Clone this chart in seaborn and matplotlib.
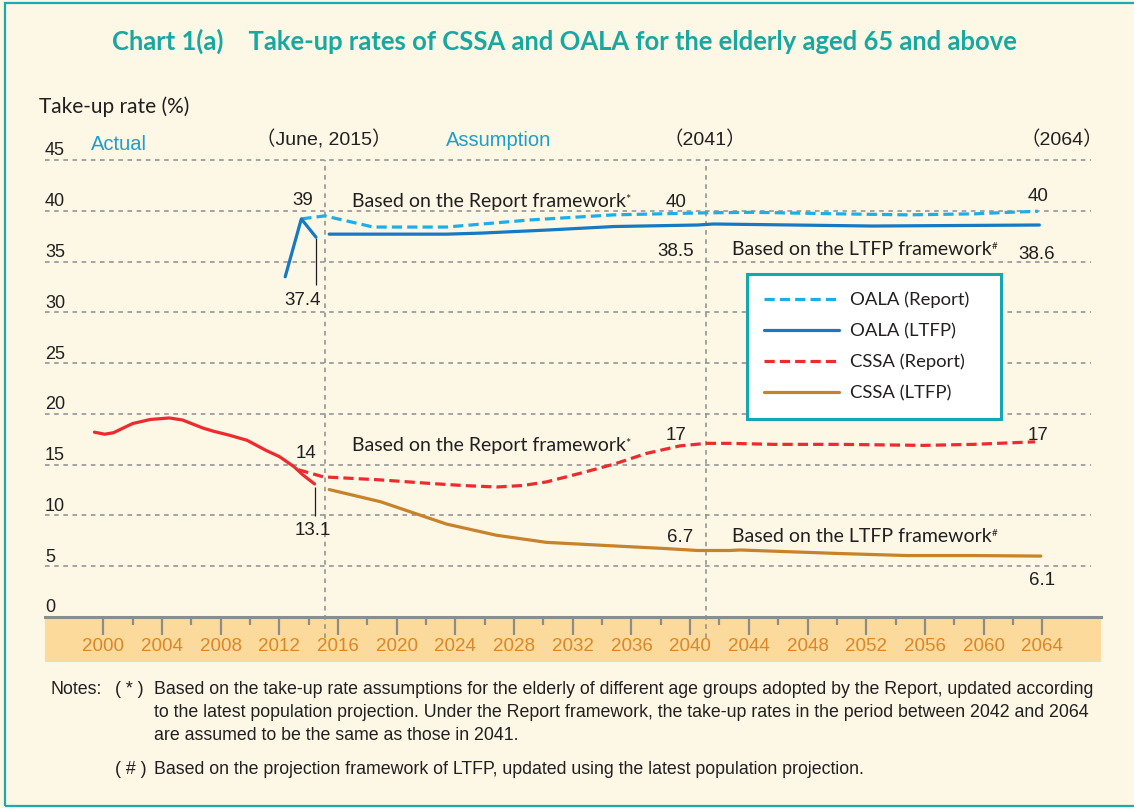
import matplotlib
matplotlib.use("Agg")
import matplotlib.pyplot as plt
from matplotlib.patches import Rectangle
import seaborn as sns

# take-up rates (%), x in years
cssa_actual_year = [1999.4, 2000.1, 2000.7, 2002.0, 2003.2, 2004.5, 2005.4, 2006.8,
                    2007.5, 2008.6, 2009.8, 2011.1, 2012.0, 2013.0, 2013.6, 2014.4]
cssa_actual = [18.2, 18.0, 18.15, 19.05, 19.45, 19.6, 19.4, 18.6,
               18.3, 17.9, 17.4, 16.4, 15.8, 14.8, 14.0, 13.1]

oala_actual_year = [2012.4, 2013.5, 2014.5]
oala_actual = [33.5, 39.2, 37.4]

cssa_report_year = [2013.3, 2015.0, 2018.9, 2022.3, 2024.5, 2026.8, 2028.6, 2030.2, 2032.5,
                    2034.8, 2037.0, 2039.3, 2041.1, 2042.7, 2045.7, 2050.2, 2055.9, 2059.3, 2063.5]
cssa_report = [14.5, 13.8, 13.5, 13.15, 12.95, 12.8, 12.95, 13.3, 14.15,
               15.05, 16.1, 16.85, 17.1, 17.1, 17.0, 17.0, 16.9, 17.0, 17.25]

cssa_ltfp_year = [2015.4, 2018.9, 2023.4, 2026.8, 2030.2, 2034.8, 2038.2, 2040.5,
                  2042.7, 2043.4, 2050.2, 2054.8, 2059.3, 2063.9]
cssa_ltfp = [12.55, 11.35, 9.15, 8.05, 7.35, 7.0, 6.75, 6.55,
             6.55, 6.6, 6.25, 6.05, 6.05, 6.0]

oala_report_year = [2013.5, 2015.1, 2018.4, 2023.4, 2029.1, 2034.8, 2041.1, 2044.3,
                    2050.1, 2054.8, 2059.4, 2061.7, 2063.7]
oala_report = [39.2, 39.5, 38.4, 38.4, 39.1, 39.6, 39.8, 39.85,
               39.7, 39.6, 39.7, 39.85, 39.95]

oala_ltfp_year = [2015.4, 2023.4, 2025.7, 2030.2, 2034.8, 2040.5, 2041.6, 2052.4, 2063.8]
oala_ltfp = [37.7, 37.7, 37.8, 38.1, 38.45, 38.6, 38.7, 38.5, 38.6]

y_levels = [5, 10, 15, 20, 25, 30, 35, 40, 45]
major_years = list(range(2000, 2065, 4))
minor_years = list(range(2002, 2063, 4))
split_years = [2015.1, 2041.1]

BG = "#FDF7E6"
BAND = "#FCDA9B"
TEAL = "#17A8A0"
GRID = "#8C8C8C"
INK = "#231F20"
CYAN_TXT = "#1BA0CB"
C_OALA_R = "#1DAEE9"
C_OALA_L = "#1679C4"
C_CSSA_R = "#EE2A2E"
C_CSSA_L = "#C8822A"

sns.set_style("white", {"axes.facecolor": BG, "figure.facecolor": BG})
plt.rcParams["font.family"] = ["Liberation Sans", "Noto Sans CJK SC", "DejaVu Sans"]

fig = plt.figure(figsize=(11.34, 8.08), dpi=100)
ax = fig.add_axes([0.03968, 0.1807, 0.9312, 0.6464])
ax.set_xlim(1996.03, 2068.0)
ax.set_ylim(-4.43, 47)

# orange band under the axis
ax.axhspan(-4.43, 0, color=BAND, zorder=0, lw=0)

# dashed horizontal grid
ax.hlines(y_levels, 1996.03, 2067.3, colors=GRID, linestyles=(0, (3, 3)), lw=1.1, zorder=1)
for v in [0] + y_levels:
    ax.text(1996.03, v + 0.45, str(v), fontsize=13, color=INK, ha="left", va="baseline")

# vertical split lines
ax.vlines(split_years, -2.1, 45, colors=GRID, linestyles=(0, (3, 3)), lw=1.1, zorder=1)

lw = 2.3
dash = (0, (3.2, 1.6))
sns.lineplot(x=oala_report_year, y=oala_report, ax=ax, color=C_OALA_R, lw=lw,
             linestyle=dash, sort=False, estimator=None, label="OALA (Report)", zorder=3)
sns.lineplot(x=oala_ltfp_year, y=oala_ltfp, ax=ax, color=C_OALA_L, lw=lw,
             sort=False, estimator=None, label="OALA (LTFP)", zorder=3)
sns.lineplot(x=cssa_report_year, y=cssa_report, ax=ax, color=C_CSSA_R, lw=lw,
             linestyle=dash, sort=False, estimator=None, label="CSSA (Report)", zorder=3)
sns.lineplot(x=cssa_ltfp_year, y=cssa_ltfp, ax=ax, color=C_CSSA_L, lw=lw,
             sort=False, estimator=None, label="CSSA (LTFP)", zorder=3)
sns.lineplot(x=oala_actual_year, y=oala_actual, ax=ax, color=C_OALA_L, lw=lw,
             sort=False, estimator=None, zorder=3)
sns.lineplot(x=cssa_actual_year, y=cssa_actual, ax=ax, color=C_CSSA_R, lw=lw,
             sort=False, estimator=None, zorder=3)

# axis
for s in ["top", "right", "left"]:
    ax.spines[s].set_visible(False)
ax.spines["bottom"].set_position(("data", 0))
ax.spines["bottom"].set_color(GRID)
ax.spines["bottom"].set_linewidth(2.2)
ax.set_yticks([])
ax.set_xticks(major_years)
ax.set_xticks(minor_years, minor=True)
ax.set_xticklabels([str(y) for y in major_years])
ax.tick_params(axis="x", which="both", bottom=True, top=False)
ax.tick_params(axis="x", which="major", direction="out", length=13, width=1.6,
               color=GRID, labelsize=13.5, labelcolor="#DD8628", pad=2)
ax.tick_params(axis="x", which="minor", direction="out", length=6, width=1.6, color=GRID)
ax.set_xlabel("")
ax.set_ylabel("")

# value labels
num_fs = 13.5
value_labels = [("39", 2013.62, 40.57), ("40", 2039.04, 40.41), ("40", 2063.71, 40.96),
                ("38.5", 2039.0, 35.55), ("38.6", 2063.65, 35.25), ("37.4", 2013.61, 30.72),
                ("14", 2013.82, 15.63), ("17", 2039.04, 17.43), ("17", 2063.68, 17.43),
                ("13.1", 2014.29, 8.07), ("6.7", 2039.31, 7.41), ("6.1", 2063.97, 3.15)]
for s, x, y in value_labels:
    ax.text(x, y, s, fontsize=num_fs, color=INK, ha="center", va="baseline")

# leader lines
ax.vlines(oala_actual_year[-1], 32.7, oala_actual[-1] - 0.1, colors=INK, lw=0.9)
ax.vlines(cssa_actual_year[-1], 9.9, cssa_actual[-1] - 0.3, colors=INK, lw=0.9)

# framework labels
frame_labels = [("Based on the Report framework", "*", 2016.93, 40.34),
                ("Based on the LTFP framework", "#", 2042.86, 35.64),
                ("Based on the Report framework", "*", 2016.93, 16.37),
                ("Based on the LTFP framework", "#", 2042.84, 7.41)]
for s, sup, x, y in frame_labels:
    t = ax.text(x, y, s, fontsize=14, family="Lato", color=INK, ha="left", va="baseline")
    ax.annotate(sup, xy=(1.0, 0.95), xycoords=t, ha="left", va="top",
                fontsize=9 if sup == "*" else 7, family="Lato", color=INK)

# period labels
ax.text(1999.14, 45.98, "Actual", fontsize=14.5, color=CYAN_TXT, ha="left", va="baseline")
ax.text(2026.97, 46.4, "Assumption", fontsize=14.5, color=CYAN_TXT, ha="center", va="baseline")
ax.text(2015.04, 46.47, "（June, 2015）", fontsize=14, color=INK, ha="center", va="baseline")
ax.text(2041.0, 46.47, "（2041）", fontsize=14, color=INK, ha="center", va="baseline")
ax.text(2065.35, 46.47, "（2064）", fontsize=14, color=INK, ha="center", va="baseline")

# legend
handles, labels = ax.get_legend_handles_labels()
leg = ax.legend(handles[:4], labels[:4], loc="upper left",
                bbox_to_anchor=(746.7 / 1134, 1 - 419.3 / 808, 254.3 / 1134, 145.3 / 808),
                bbox_transform=fig.transFigure, mode="expand", borderaxespad=0,
                frameon=True, fancybox=False, framealpha=1, facecolor="white",
                edgecolor="#14A6B2", prop={"family": "Lato", "size": 13.3},
                handlelength=4.05, handletextpad=0.6, labelspacing=0.8, borderpad=0.95)
leg.get_frame().set_linewidth(2.2)
for txt in leg.get_texts():
    txt.set_color(INK)

# title and axis title
fig.text(0.498, 0.9381, "Chart 1(a)    Take-up rates of CSSA and OALA for the elderly aged 65 and above",
         fontsize=18.45, fontweight="bold", family="Lato", color=TEAL, ha="center", va="baseline")
fig.text(0.0347, 0.8598, "Take-up rate (%)", fontsize=15, family="Lato", color=INK,
         ha="left", va="baseline")

# notes
note_fs = 12.75
fig.text(50 / 1134, 1 - 694 / 808, "Notes:", fontsize=note_fs, color=INK)
fig.text(115 / 1134, 1 - 694 / 808, "( * )", fontsize=note_fs, color=INK)
fig.text(115 / 1134, 1 - 773.6 / 808, "( # )", fontsize=note_fs, color=INK)
notes = [("Based on the take-up rate assumptions for the elderly of different age groups adopted by the Report, updated according", 694),
         ("to the latest population projection. Under the Report framework, the take-up rates in the period between 2042 and 2064", 717),
         ("are assumed to be the same as those in 2041.", 740),
         ("Based on the projection framework of LTFP, updated using the latest population projection.", 773.6)]
for s, yb in notes:
    fig.text(153.6 / 1134, 1 - yb / 808, s, fontsize=note_fs, color=INK)

# outer frame
fig.patches.append(Rectangle((5 / 1134, 2 / 808), 1.2, 803 / 808, transform=fig.transFigure,
                             fill=False, edgecolor="#1AAAB0", lw=1.6, clip_on=False))

fig.savefig("out.png", dpi=100, facecolor=BG)
